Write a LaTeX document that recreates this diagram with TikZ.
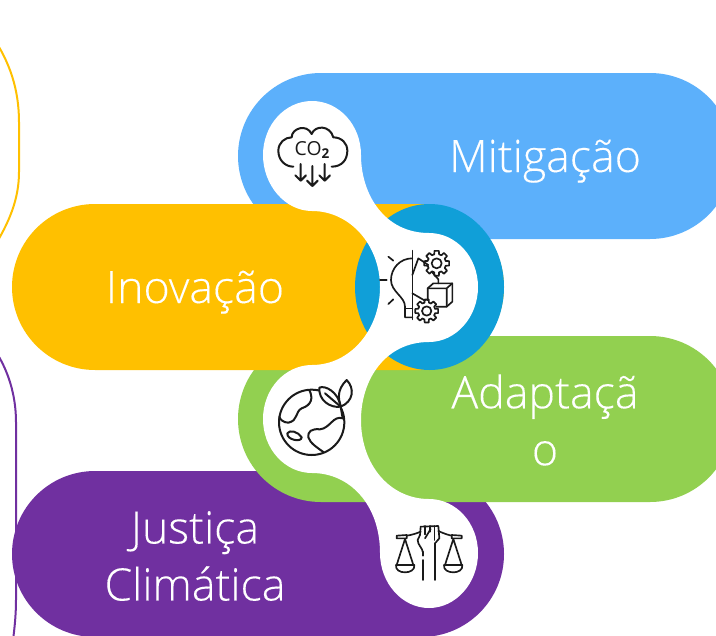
\documentclass[tikz,border=0pt]{standalone}
\usepackage{fontspec}
\setmainfont[UprightFeatures={FakeBold=0.2}]{Open Sans Light}
\newfontfamily\iconfont{Open Sans}
\definecolor{cblue}{HTML}{5CB0FB}
\definecolor{corange}{HTML}{FFC000}
\definecolor{cteal}{HTML}{109FD8}
\definecolor{cgreen}{HTML}{92D050}
\definecolor{cpurple}{HTML}{7030A0}
\definecolor{cicon}{HTML}{1A1A1A}
\tikzset{
  pill/.style={rounded corners=62.25pt},
  label/.style={text=white,align=center,inner sep=0pt,font=\fontsize{33.5pt}{42.75pt}\selectfont},
  icon/.style={draw=cicon,line width=1.5pt,line cap=round,line join=round},
  iconthin/.style={draw=cicon,line width=1.25pt,line cap=round,line join=round}
}
\newcommand{\gearicon}[5]{% cx cy r1 r2 rhole
  \foreach \a in {0,45,...,315}{
    \draw[iconthin] ($(#1,#2)+({\a-15}:#3)$) -- ($(#1,#2)+({\a-10}:#4)$) -- ($(#1,#2)+({\a+10}:#4)$) -- ($(#1,#2)+({\a+15}:#3)$) -- ($(#1,#2)+({\a+30}:#3)$);
  }
  \draw[iconthin] (#1,#2) circle[radius=#5];
}
\usetikzlibrary{calc}
\begin{document}
\begin{tikzpicture}[x=0.75pt,y=-0.75pt]
\clip (0,0) rectangle (716,635);
\useasboundingbox (0,0) rectangle (716,635);
% outlines at the left
\draw[corange,line width=1.5pt] (-8,36) .. controls (10,62) and (19,90) .. (19,122) -- (19,172) .. controls (19,198) and (10,222) .. (-8,250);
\draw[cpurple,line width=1.5pt] (-8,346) .. controls (8,368) and (16,395) .. (16,422) -- (16,600) .. controls (16,612) and (15,625) .. (13,640);
% pills
\fill[cpurple,pill] (12,471) rectangle (504,637);
\fill[cgreen,pill] (238,336) rectangle (733,502);
\fill[cblue,pill] (238,73) rectangle (733,239);
\fill[corange,pill] (12,204) rectangle (504,370);
\fill[cteal] (429.5,287) ellipse[x radius=74.5,y radius=83];
% white chain
\fill[white] (312,101)
 .. controls (339,101) and (361,125) .. (361,155)
 .. controls (361,195) and (385,233) .. (429,233)
 .. controls (456,233) and (478,257) .. (478,287)
 .. controls (478,317) and (456,342) .. (429,342)
 .. controls (385,342) and (361,380) .. (361,420)
 .. controls (361,465) and (390,499) .. (429,499)
 .. controls (456,499) and (478,523) .. (478,553)
 .. controls (478,583) and (456,608) .. (429,608)
 .. controls (402,608) and (380,583) .. (380,553)
 .. controls (380,505) and (350,473) .. (312,473)
 .. controls (285,473) and (263,449) .. (263,419)
 .. controls (263,389) and (285,365) .. (312,365)
 .. controls (350,365) and (380,330) .. (380,287)
 .. controls (380,245) and (350,211) .. (312,211)
 .. controls (285,211) and (263,185) .. (263,155)
 .. controls (263,125) and (285,101) .. (312,101) -- cycle;
% labels
\node[label,anchor=base] (mit) at (545,172) {Mitigação};
\node[label,anchor=base] (ino) at (195,303) {Inovação};
\node[label] (ada) at (545,420) {Adaptaçã\\o};
\node[label] (jus) at (195,556) {Justiça\\Climática};
% CO2 icon
\begin{scope}[shift={(230,60)},scale=1/3]
 \draw[icon] (190,320) .. controls (165,320) and (145,300) .. (145,272)
   .. controls (145,248) and (165,232) .. (185,232)
   .. controls (185,205) and (230,190) .. (245,222)
   .. controls (255,195) and (300,195) .. (310,232)
   .. controls (335,232) and (352,250) .. (352,272)
   .. controls (352,300) and (335,320) .. (305,320);
 \node[inner sep=0pt,text=cicon,font=\iconfont\fontsize{14.5pt}{14.5pt}\selectfont] (co2) at (247,270) {CO\textsubscript{\bfseries 2}};
 \draw[icon] (212,312) -- (212,362) (196,346) -- (212,362) -- (228,346);
 \draw[icon] (247,318) -- (247,378) (231,362) -- (247,378) -- (263,362);
 \draw[icon] (284,312) -- (284,362) (268,346) -- (284,362) -- (300,346);
\end{scope}
% bulb icon
\begin{scope}[shift={(375,240)},scale=1/3]
 \draw[iconthin] (112,32) -- (112,238);
 \draw[iconthin] (112,55) .. controls (75,55) and (48,85) .. (48,120)
   .. controls (48,155) and (90,170) .. (90,200) -- (90,232) -- (112,232);
 \draw[iconthin] (90,205) -- (112,205);
 \draw[iconthin] (15,120) -- (35,120) (40,50) -- (55,62) (40,192) -- (55,178);
 \draw[iconthin] (112,105) -- (130,55) -- (160,75);
 \draw[iconthin] (112,160) -- (155,185);
 \draw[iconthin] (170,95) -- (190,118) -- (190,130);
 \gearicon{185}{70}{28}{38}{15}
 \draw[iconthin] (158,145) -- (175,130) -- (232,130) -- (232,185) -- (215,200) -- (158,200) -- cycle;
 \draw[iconthin] (158,145) -- (215,145) -- (232,130) (215,145) -- (215,200);
 \fill[white] (155,213) circle[radius=30];
 \gearicon{155}{213}{26}{35}{14}
\end{scope}
% globe icon
\begin{scope}[shift={(230,350)},scale=1/3]
 \draw[icon] (245,217) circle[radius=98];
 \draw[icon] (238,120) .. controls (250,145) and (245,165) .. (215,175)
   .. controls (195,185) and (205,212) .. (175,218) .. controls (160,218) and (150,208) .. (148,200);
 \draw[icon] (172,250) .. controls (178,238) and (205,245) .. (215,262) .. controls (215,278) and (170,270) .. (172,250) -- cycle;
 \draw[icon] (338,205) .. controls (310,195) and (300,235) .. (270,238)
   .. controls (245,235) and (232,245) .. (235,262) .. controls (240,280) and (265,295) .. (280,306);
 \draw[icon,fill=white] (268,113) .. controls (285,105) and (325,125) .. (332,170) .. controls (300,175) and (265,150) .. (268,113) -- cycle;
 \draw[icon] (350,90) .. controls (375,115) and (370,155) .. (332,170) .. controls (325,145) and (320,120) .. (350,90) -- cycle;
 \draw[icon] (285,130) -- (332,170) -- (338,205);
\end{scope}
% scales icon
\begin{scope}[shift={(380,515)},scale=1/3]
 \draw[iconthin] (50,62) -- (50,70) -- (80,70) -- (80,60) -- cycle;
 \draw[iconthin] (215,60) -- (215,70) -- (245,70) -- (245,62) -- cycle;
 \draw[iconthin] (80,62) .. controls (95,60) and (110,55) .. (122,50);
 \draw[iconthin] (175,48) .. controls (190,55) and (205,60) .. (215,62);
 \draw[iconthin] (75,72) -- (50,150) (75,72) -- (100,150);
 \draw[iconthin] (220,72) -- (195,150) (220,72) -- (245,150);
 \draw[iconthin] (48,150) -- (103,150) .. controls (105,165) and (90,172) .. (75,172) .. controls (60,172) and (46,165) .. (48,150) -- cycle;
 \draw[iconthin] (192,150) -- (247,150) .. controls (249,165) and (234,172) .. (220,172) .. controls (205,172) and (190,165) .. (192,150) -- cycle;
 \draw[iconthin] (128,135) -- (128,195) (128,110) -- (128,122) (165,85) -- (165,195);
 \draw[iconthin] (122,35) -- (175,33) -- (178,70) -- (165,85);
 \draw[iconthin] (122,35) -- (120,60) -- (113,75) .. controls (113,90) and (128,100) .. (128,110);
 \draw[iconthin] (135,33) -- (135,58) (150,33) -- (150,50) (163,33) -- (163,75);
 \draw[iconthin] (135,70) -- (152,42);
\end{scope}
\end{tikzpicture}
\end{document}
